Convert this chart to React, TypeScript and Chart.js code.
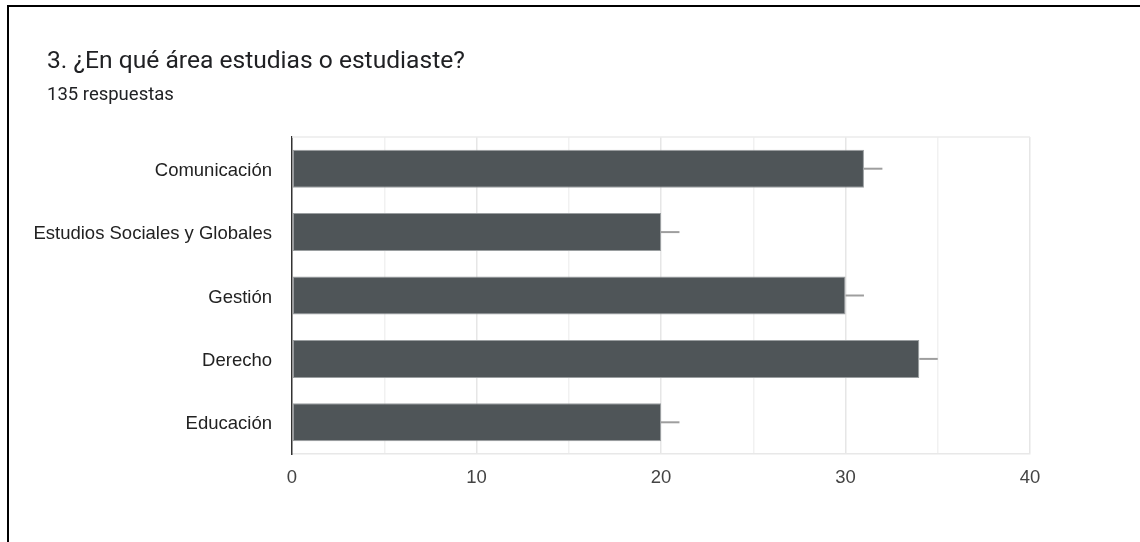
import React, { useEffect, useRef } from 'react';
import { Chart, registerables } from 'chart.js';

Chart.register(...registerables);

const titleText = '3. ¿En qué área estudias o estudiaste?';
const subtitleText = '135 respuestas';
const categories = ['Comunicación', 'Estudios Sociales y Globales', 'Gestión', 'Derecho', 'Educación'];
const counts = [31, 20, 30, 34, 20];
const labelledTicks = [0, 10, 20, 30, 40];
const markerLength = 1;

const W = 1140;
const H = 542;

const endMarkers = {
  id: 'endMarkers',
  afterDatasetsDraw(chart: any) {
    const { ctx, scales, chartArea } = chart;
    const xs = scales.x;
    const meta = chart.getDatasetMeta(0);
    ctx.save();
    // top border of plot
    ctx.strokeStyle = '#ebebeb';
    ctx.lineWidth = 1.5;
    ctx.beginPath();
    ctx.moveTo(chartArea.left, chartArea.top);
    ctx.lineTo(chartArea.right, chartArea.top);
    ctx.stroke();
    ctx.strokeStyle = '#9e9e9e';
    ctx.lineWidth = 2;
    meta.data.forEach((bar: any, i: number) => {
      const v = counts[i];
      const x0 = xs.getPixelForValue(v);
      const x1 = xs.getPixelForValue(v + markerLength);
      ctx.beginPath();
      ctx.moveTo(x0, bar.y);
      ctx.lineTo(x1, bar.y);
      ctx.stroke();
    });
    ctx.restore();
  },
};

export default function App() {
  const ref = useRef<HTMLCanvasElement | null>(null);

  useEffect(() => {
    if (!ref.current) return;
    const font = { family: '"Liberation Sans", Arial, sans-serif', size: 18.5 };
    const chart = new Chart(ref.current, {
      type: 'bar',
      data: {
        labels: categories,
        datasets: [
          {
            data: counts,
            backgroundColor: '#4f5558',
            borderColor: '#9a9ea0',
            borderWidth: 1,
            borderSkipped: false,
            categoryPercentage: 1,
            barPercentage: 0.6,
          },
        ],
      },
      options: {
        indexAxis: 'y',
        responsive: false,
        animation: false,
        events: [],
        layout: { padding: { top: 137, right: 110, bottom: 48, left: 0 } },
        plugins: { legend: { display: false }, tooltip: { enabled: false }, title: { display: false } },
        scales: {
          x: {
            type: 'linear',
            min: 0,
            max: 40,
            ticks: {
              stepSize: 5,
              autoSkip: false,
              maxRotation: 0,
              padding: 13,
              color: '#444',
              font,
              callback: (v: any) => (labelledTicks.includes(Number(v)) ? String(v) : ''),
            },
            grid: {
              drawTicks: false,
              lineWidth: 1.5,
              color: (c: any) => {
                const v = c.tick ? c.tick.value : 0;
                if (v === 0) return 'rgba(0,0,0,0)';
                return v % 10 === 0 ? '#e6e6e6' : '#f1f1f1';
              },
            },
            border: { color: '#e8e8e8', width: 1.5 },
            afterFit: (s: any) => {
              s.height = 40;
            },
          },
          y: {
            ticks: { padding: 20, color: '#222', font, labelOffset: 2 },
            grid: { display: false, drawTicks: false },
            border: { color: '#333', width: 1.5 },
            afterFit: (s: any) => {
              s.width = 292;
            },
          },
        },
      },
      plugins: [endMarkers],
    } as any);
    return () => chart.destroy();
  }, []);

  return (
    <div style={{ position: 'absolute', left: 0, top: 0, width: W, height: H, background: '#fff', overflow: 'hidden' }}>
      <canvas ref={ref} width={W} height={H} style={{ position: 'absolute', left: 0, top: 0, width: W, height: H }} />
      <div
        style={{
          position: 'absolute',
          left: 7,
          top: 5,
          right: 0,
          bottom: 0,
          borderTop: '2px solid #000',
          borderLeft: '2px solid #000',
          pointerEvents: 'none',
        }}
      />
      <div
        style={{
          position: 'absolute',
          left: 47,
          top: 48,
          fontFamily: 'Roboto, "Noto Sans", sans-serif',
          fontSize: 24.6,
          lineHeight: '24.6px',
          color: '#202124',
          whiteSpace: 'nowrap',
        }}
      >
        {titleText}
      </div>
      <div
        style={{
          position: 'absolute',
          left: 47,
          top: 84.5,
          fontFamily: 'Roboto, "Noto Sans", sans-serif',
          fontSize: 18.5,
          lineHeight: '18.5px',
          color: '#202124',
          whiteSpace: 'nowrap',
        }}
      >
        {subtitleText}
      </div>
    </div>
  );
}
